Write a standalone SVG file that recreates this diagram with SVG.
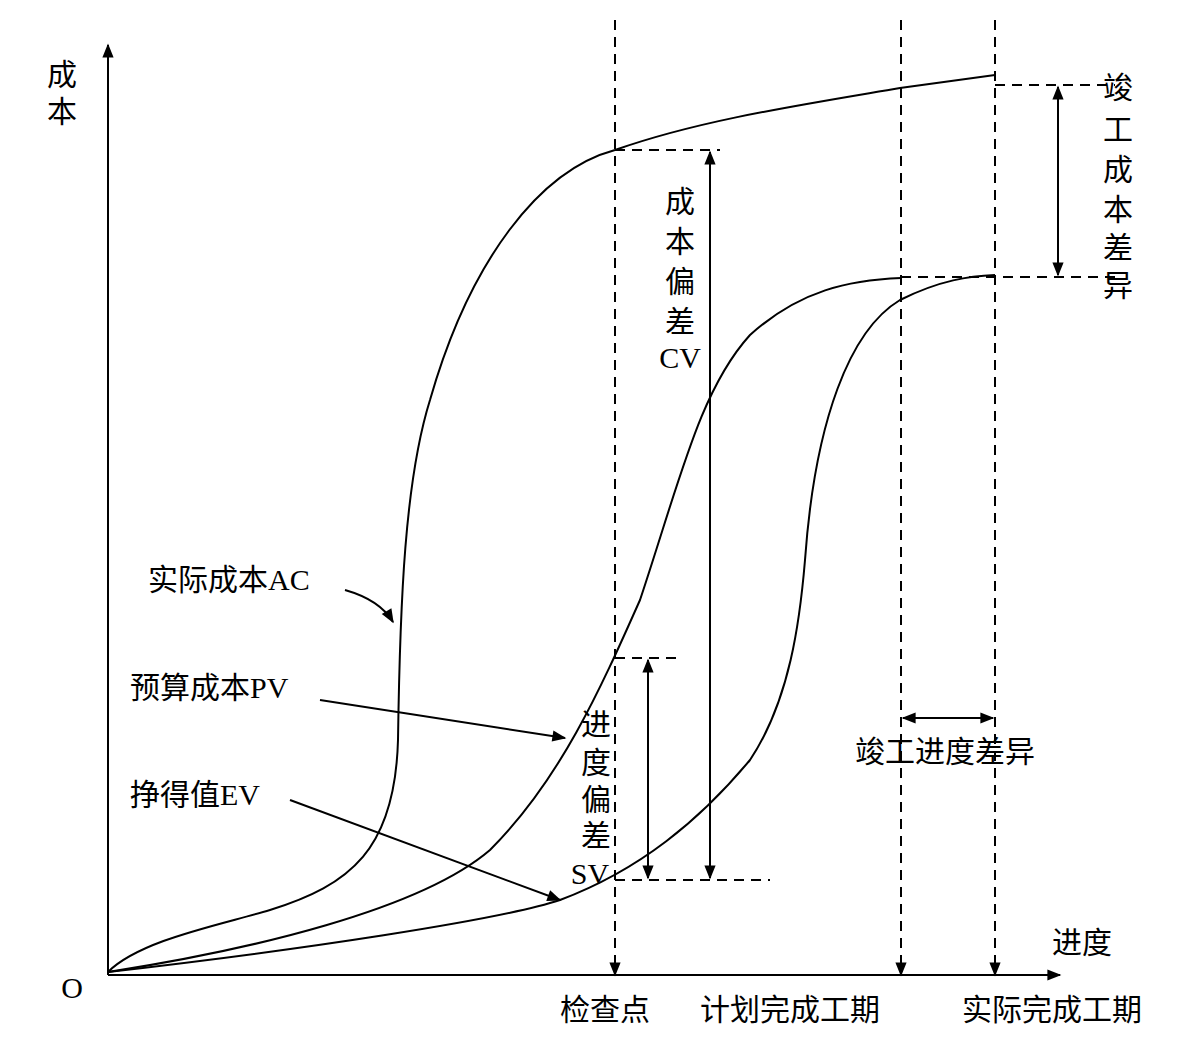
<svg xmlns="http://www.w3.org/2000/svg" width="1181" height="1044" viewBox="0 0 1181 1044">
<style>
.l{fill:none;stroke:#000;stroke-width:2}
.d{fill:none;stroke:#000;stroke-width:2;stroke-dasharray:10 7}
text{font-family:"Liberation Serif","Noto Sans CJK SC",serif;font-size:30px;fill:#000}
.c{text-anchor:middle}
</style>
<defs>
<marker id="b" viewBox="0 0 10 10" refX="9" refY="5" markerWidth="18" markerHeight="14" orient="auto-start-reverse" markerUnits="userSpaceOnUse"><path d="M0,1 L10,5 L0,9 Z" fill="#000"/></marker>
</defs>
<rect width="1181" height="1044" fill="#fff"/>
<g id="connectors">
<path class="l" d="M108,975 V45" marker-end="url(#b)"/>
<path class="l" d="M108,975 H1060" marker-end="url(#b)"/>
<path class="d" d="M615,20 V975" marker-end="url(#b)"/>
<path class="d" d="M901,20 V975" marker-end="url(#b)"/>
<path class="d" d="M995,20 V975" marker-end="url(#b)"/>
<path class="d" d="M615,150 H720 M995,85 H1115 M901,277 H1115 M615,658 H680 M615,880 H770"/>
<path class="l" d="M710,152 V878" marker-start="url(#b)" marker-end="url(#b)"/>
<path class="l" d="M1058,87 V275" stroke-width="3" marker-start="url(#b)" marker-end="url(#b)"/>
<path class="l" d="M648,660 V878" marker-start="url(#b)" marker-end="url(#b)"/>
<path class="l" d="M903,718 H993" stroke-width="3" marker-start="url(#b)" marker-end="url(#b)"/>
<path class="l" d="M345,590 Q380,600 393,622" marker-end="url(#b)"/>
<path class="l" d="M320,700 L565,738" marker-end="url(#b)"/>
<path class="l" d="M290,800 L560,900" marker-end="url(#b)"/>
</g>
<g id="curves">
<path class="l" d="M108,972 C140,940 220,925 270,910 C350,885 395,850 398,740 C400,600 405,480 430,400 C470,260 540,170 615,150 C700,120 800,105 900,88 L995,75"/>
<path class="l" d="M108,972 C250,950 420,910 490,850 C560,780 600,690 640,600 C680,480 700,390 750,335 C800,290 850,280 901,278"/>
<path class="l" d="M108,972 C300,950 500,920 560,900 C640,870 700,820 750,760 C790,700 800,620 805,560 C815,420 850,330 900,300 C940,280 970,276 995,275"/>
</g>
<g id="labels">
<text x="62" y="85" class="c">成</text><text x="62" y="122" class="c">本</text>
<text x="72" y="998" class="c">O</text>
<text x="1082" y="953" class="c">进度</text>
<text x="605" y="1020" class="c">检查点</text>
<text x="790" y="1020" class="c">计划完成工期</text>
<text x="1052" y="1020" class="c">实际完成工期</text>
<text x="1118" y="98" class="c">竣</text><text x="1118" y="140" class="c">工</text><text x="1118" y="180" class="c">成</text><text x="1118" y="220" class="c">本</text><text x="1118" y="258" class="c">差</text><text x="1118" y="296" class="c">异</text>
<text x="680" y="212" class="c">成</text><text x="680" y="252" class="c">本</text><text x="680" y="292" class="c">偏</text><text x="680" y="332" class="c">差</text><text x="680" y="368" class="c">CV</text>
<text x="596" y="735" class="c">进</text><text x="596" y="773" class="c">度</text><text x="596" y="810" class="c">偏</text><text x="596" y="846" class="c">差</text><text x="590" y="884" class="c">SV</text>
<text x="945" y="762" class="c">竣工进度差异</text>
<text x="148" y="590">实际成本AC</text>
<text x="130" y="698">预算成本PV</text>
<text x="130" y="805">挣得值EV</text>
</g>
</svg>
